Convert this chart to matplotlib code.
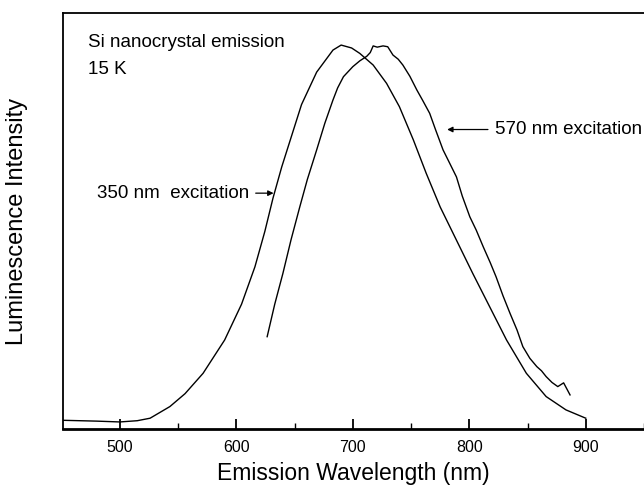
import matplotlib.pyplot as plt
from matplotlib.ticker import MultipleLocator

plt.rcParams['font.family'] = ['Liberation Sans', 'DejaVu Sans']

# PL spectrum, 350 nm excitation (wavelength nm, relative intensity)
wl_350 = [451, 480, 500, 515, 526, 543, 556, 571.5, 590, 604.5, 616, 624.5,
          631.5, 639, 647.5, 656, 669, 683, 690, 699, 706, 717.5, 729, 740,
          752, 763, 775, 789, 803, 817.5, 832, 849, 866, 883, 900]
int_350 = [0.021, 0.019, 0.017, 0.020, 0.026, 0.054, 0.085, 0.134, 0.214,
           0.300, 0.390, 0.475, 0.555, 0.630, 0.705, 0.780, 0.858, 0.911,
           0.923, 0.916, 0.903, 0.875, 0.831, 0.775, 0.695, 0.615, 0.534,
           0.454, 0.374, 0.294, 0.214, 0.134, 0.078, 0.046, 0.026]

# PL spectrum, 570 nm excitation
wl_570 = [626.5, 633, 640, 647, 654.5, 661, 669, 676, 683, 687, 692, 700,
          706, 712, 715, 717.5, 721, 726, 730, 734.5, 739, 743, 749, 755,
          760, 766, 771, 777.5, 783, 789, 794, 800.5, 806, 812, 818, 823,
          829, 835, 841, 846, 852, 858, 862, 866, 871, 876, 881, 886.5]
int_570 = [0.222, 0.300, 0.374, 0.455, 0.534, 0.600, 0.671, 0.735, 0.791,
           0.820, 0.847, 0.871, 0.885, 0.896, 0.905, 0.921, 0.918, 0.921,
           0.919, 0.899, 0.889, 0.875, 0.848, 0.815, 0.790, 0.759, 0.720,
           0.671, 0.640, 0.606, 0.560, 0.510, 0.478, 0.438, 0.400, 0.366,
           0.320, 0.278, 0.238, 0.198, 0.170, 0.150, 0.140, 0.126, 0.112,
           0.102, 0.111, 0.082]

fig = plt.figure(figsize=(6.44, 4.92), dpi=100)
ax = fig.add_axes([0.0974, 0.128, 0.9026, 0.8455])

ax.plot(wl_350, int_350, color='black', lw=1.0)
ax.plot(wl_570, int_570, color='black', lw=1.0)

ax.set_xlim(451, 950)
ax.set_ylim(0, 1)

ax.spines['right'].set_visible(False)
ax.spines['top'].set_linewidth(1.3)
ax.spines['left'].set_linewidth(1.3)
ax.spines['bottom'].set_linewidth(2.0)

ax.xaxis.set_major_locator(MultipleLocator(100))
ax.xaxis.set_minor_locator(MultipleLocator(50))
ax.tick_params(axis='x', which='major', direction='in', length=7, width=1.3,
               labelsize=11.5, pad=8)
ax.tick_params(axis='x', which='minor', direction='in', length=4, width=1.0)
ax.set_yticks([])
ax.tick_params(top=False)

ax.set_xlabel('Emission Wavelength (nm)', fontsize=16.5, labelpad=5)
ax.set_ylabel('Luminescence Intensity', fontsize=17, labelpad=25)

# sample notes and curve labels
ax.text(0.044, 0.93, 'Si nanocrystal emission', transform=ax.transAxes,
        fontsize=13.5, va='center')
ax.text(0.044, 0.865, '15 K', transform=ax.transAxes, fontsize=13.5,
        va='center')

ax.annotate('350 nm  excitation', xy=(632, 0.567), xytext=(480, 0.567),
            fontsize=13.5, va='center',
            arrowprops=dict(arrowstyle='-|>', color='black', lw=0.9,
                            mutation_scale=8, shrinkA=3, shrinkB=0))
ax.annotate('570 nm excitation', xy=(781, 0.72), xytext=(822, 0.72),
            fontsize=13.5, va='center',
            arrowprops=dict(arrowstyle='-|>', color='black', lw=0.9,
                            mutation_scale=8, shrinkA=3, shrinkB=0))

fig.savefig('out.png', dpi=100)
